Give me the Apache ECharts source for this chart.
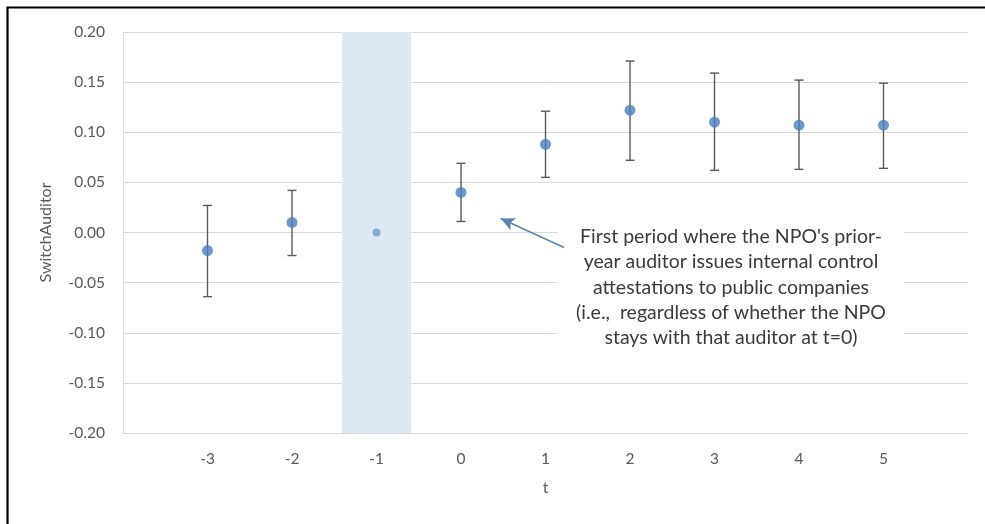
<!DOCTYPE html>
<html>
<head>
<meta charset="utf-8">
<script src="https://cdn.jsdelivr.net/npm/echarts@6/dist/echarts.min.js"></script>
<style>
  html, body { margin: 0; padding: 0; background: #fff; }
  #chart { width: 985px; height: 524px; }
</style>
</head>
<body>
<div id="chart"></div>
<script>
// ---- data ----
const periods = [-3, -2, -1, 0, 1, 2, 3, 4, 5];
const estimates = [-0.018, 0.010, 0.000, 0.040, 0.088, 0.122, 0.110, 0.107, 0.107];
const lowerCI = [-0.064, -0.023, null, 0.011, 0.055, 0.072, 0.062, 0.063, 0.064];
const upperCI = [0.027, 0.042, null, 0.069, 0.121, 0.171, 0.159, 0.152, 0.149];
const referencePeriod = -1;
const yTicks = [-0.20, -0.15, -0.10, -0.05, 0.00, 0.05, 0.10, 0.15, 0.20];
const annotationLines = [
  "First period where the NPO's prior-",
  "year auditor issues internal control",
  "attestations to public companies",
  "(i.e.,  regardless of whether the NPO",
  "stays with that auditor at t=0)"
];
// arrow: tail and tip in data units (t, SwitchAuditor)
const arrowTail = [1.22, -0.015];
const arrowTip = [0.47, 0.014];

// ---- build ----
const FONT = 'Lato, "Open Sans", sans-serif';
const pointData = periods.map((p, i) => {
  const d = { value: [p, estimates[i]] };
  if (p === referencePeriod) {
    d.symbolSize = 8;
    d.itemStyle = { color: '#6f97c9' };
  }
  return d;
});
const errorData = periods
  .map((p, i) => [p, lowerCI[i], upperCI[i]])
  .filter(d => d[1] !== null && d[2] !== null);

const chart = echarts.init(document.getElementById('chart'), null, { renderer: 'canvas' });

const option = {
  backgroundColor: '#ffffff',
  animation: false,
  grid: { left: 123, right: 17, top: 32, bottom: 91, containLabel: false },
  xAxis: {
    type: 'value',
    min: periods[0] - 1,
    max: periods[periods.length - 1] + 1,
    interval: 1,
    name: 't',
    nameLocation: 'middle',
    nameGap: 47,
    nameTextStyle: { color: '#595959', fontSize: 16, fontFamily: FONT },
    axisLine: { show: true, onZero: false, lineStyle: { color: '#d9d9d9', width: 1 } },
    axisTick: { show: false },
    splitLine: { show: false },
    axisLabel: {
      color: '#595959', fontSize: 15.5, fontFamily: FONT, margin: 18,
      formatter: v => periods.includes(v) ? String(v) : ''
    }
  },
  yAxis: {
    type: 'value',
    min: yTicks[0],
    max: yTicks[yTicks.length - 1],
    interval: 0.05,
    name: 'SwitchAuditor',
    nameLocation: 'middle',
    nameRotate: 90,
    nameGap: 69,
    nameTextStyle: { color: '#595959', fontSize: 16, fontFamily: FONT },
    axisLine: { show: true, onZero: false, lineStyle: { color: '#d9d9d9', width: 1 } },
    axisTick: { show: false },
    splitLine: { show: true, lineStyle: { color: '#d9d9d9', width: 1 } },
    axisLabel: {
      color: '#595959', fontSize: 15.5, fontFamily: FONT, margin: 18,
      formatter: v => v.toFixed(2)
    }
  },
  graphic: [
    {
      type: 'rect',
      z: 1,
      shape: { x: 558, y: 218, width: 346, height: 132 },
      style: { fill: '#ffffff' },
      silent: true
    },
    {
      type: 'text',
      z: 1,
      x: 731,
      y: 224,
      style: {
        text: annotationLines.join('\n'),
        align: 'center',
        verticalAlign: 'top',
        font: '19.5px ' + FONT,
        lineHeight: 25.3,
        fill: '#3a3a3a'
      },
      silent: true
    },
    {
      type: 'rect',
      z: 100,
      shape: { x: 7.5, y: 7.5, width: 1100, height: 1100 },
      style: { fill: null, stroke: '#000000', lineWidth: 2.2 },
      silent: true
    }
  ],
  series: [
    {
      type: 'custom',
      name: 'CI',
      z: 2,
      data: errorData,
      encode: { x: 0, y: [1, 2] },
      renderItem: (params, api) => {
        const x = api.value(0);
        const lo = api.coord([x, api.value(1)]);
        const hi = api.coord([x, api.value(2)]);
        const cap = 4.5;
        const style = { stroke: '#595959', lineWidth: 1.4 };
        return {
          type: 'group',
          children: [
            { type: 'line', shape: { x1: lo[0], y1: lo[1], x2: hi[0], y2: hi[1] }, style },
            { type: 'line', shape: { x1: hi[0] - cap, y1: hi[1], x2: hi[0] + cap, y2: hi[1] }, style },
            { type: 'line', shape: { x1: lo[0] - cap, y1: lo[1], x2: lo[0] + cap, y2: lo[1] }, style }
          ]
        };
      },
      markArea: {
        silent: true,
        itemStyle: { color: '#dee8f2' },
        data: [[{ xAxis: referencePeriod - 0.41 }, { xAxis: referencePeriod + 0.41 }]]
      }
    },
    {
      type: 'scatter',
      name: 'SwitchAuditor',
      z: 3,
      symbol: 'circle',
      symbolSize: 11,
      itemStyle: { color: '#4a7ebb' },
      data: pointData,
      markLine: {
        silent: true,
        symbolSize: [10, 14],
        lineStyle: { color: '#5b84b1', width: 1.6, type: 'solid' },
        label: { show: false },
        data: [[
          { coord: arrowTail, symbol: 'none' },
          { coord: arrowTip, symbol: 'arrow' }
        ]]
      }
    }
  ]
};
chart.setOption(option);
</script>
</body>
</html>
